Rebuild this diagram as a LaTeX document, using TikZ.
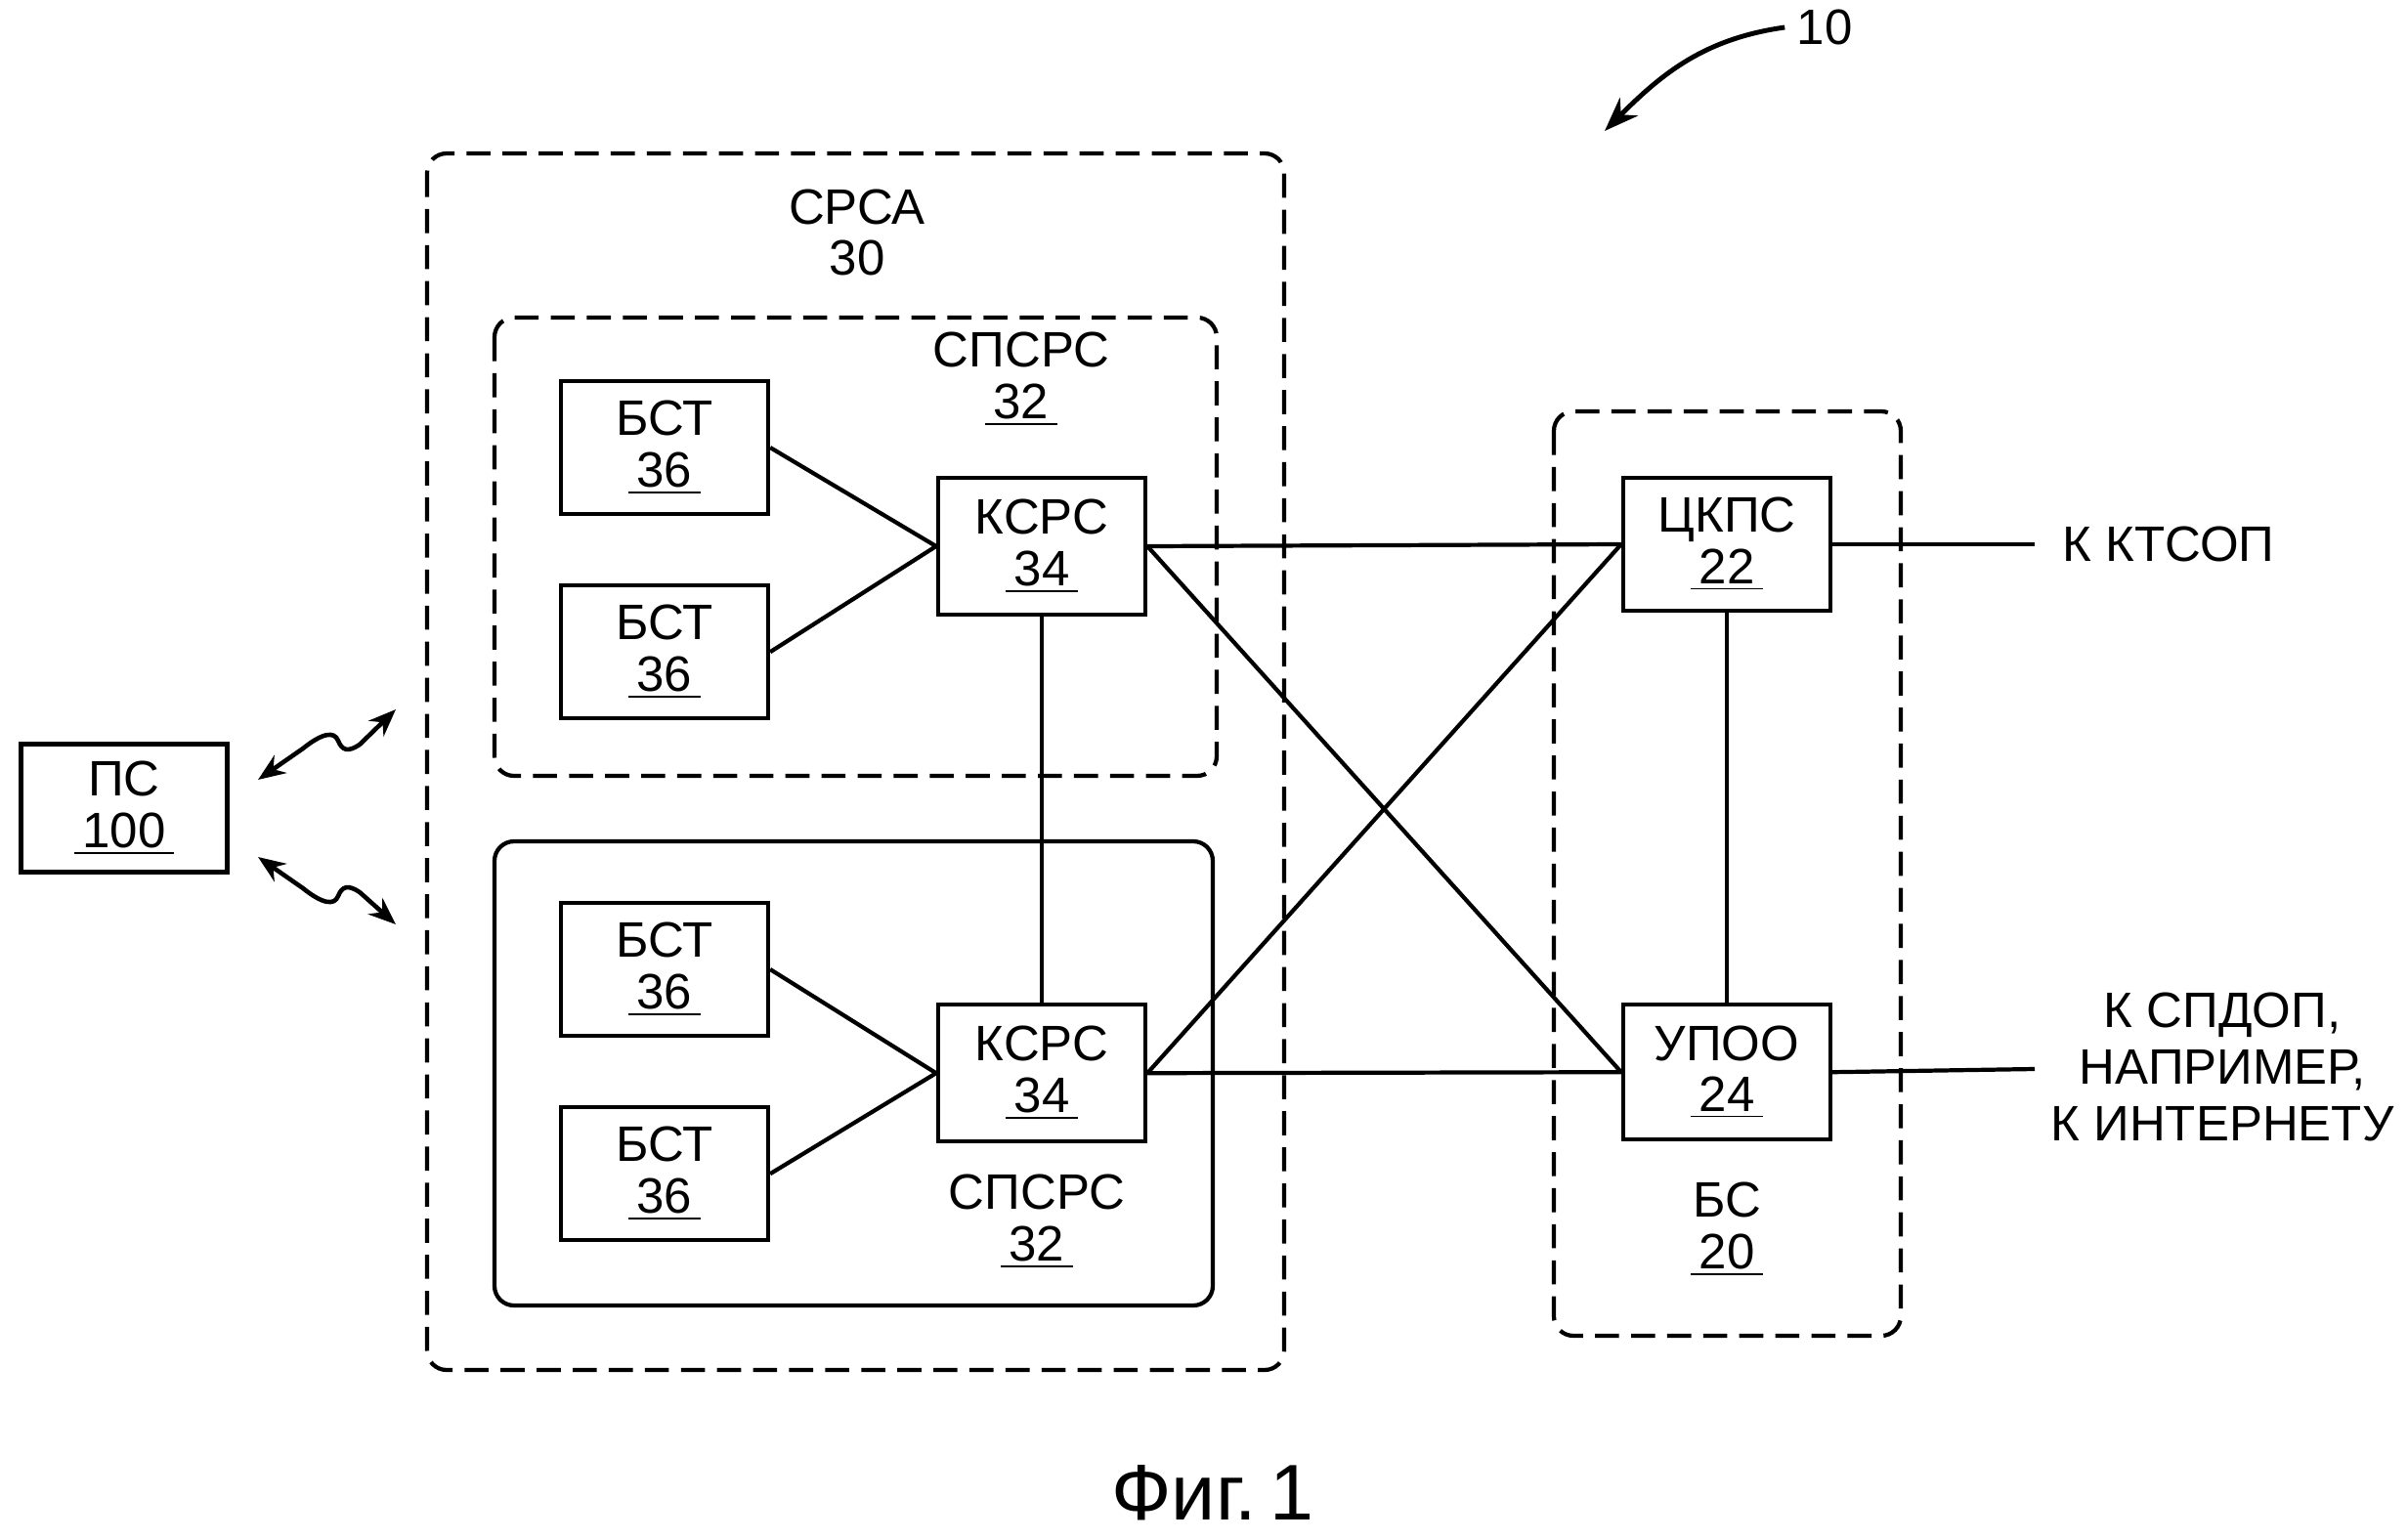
\documentclass[tikz,border=0pt]{standalone}
\usepackage{fontspec}
\setmainfont{Liberation Sans}
\usetikzlibrary{arrows.meta, positioning}

\newcommand{\refnum}[1]{\underline{\,#1\,}}

\begin{document}
\begin{tikzpicture}[
    font=\fontsize{14.5}{15}\selectfont,
    block/.style={draw, line width=1.2pt, minimum width=2.12cm, minimum height=1.36cm, inner sep=0pt, align=center},
    group/.style={draw, line width=1.2pt, dash pattern=on 7pt off 3.5pt, rounded corners=0.2cm},
    link/.style={line width=1.2pt},
    radio/.style={line width=1.3pt, arrows={Stealth[length=0.28cm, width=0.22cm]-Stealth[length=0.28cm, width=0.22cm]}}
]
    \useasboundingbox (0,0) rectangle (24.64,-15.76);

    %% radio access network
    % Frames
    \draw[group] (4.37,-1.57) rectangle (13.14,-14.02);
    \draw[group] (5.06,-3.25) rectangle (12.45,-7.94);
    \draw[link, rounded corners=0.2cm] (5.06,-8.61) rectangle (12.41,-13.36);

    % Nodes
    \node[align=center] (srsa) at (8.77,-2.38) {СРСА\\30};
    \node[align=center] (spsrs1) at (10.45,-3.88) {СПСРС\\\refnum{32}};
    \node[align=center] (spsrs2) at (10.61,-12.50) {СПСРС\\\refnum{32}};

    \node[block] (bst1) at (6.80,-4.58) {БСТ\\\refnum{36}};
    \node[block, below=0.69cm of bst1] (bst2) {БСТ\\\refnum{36}};
    \node[block, minimum height=1.40cm] (ksrs1) at (10.66,-5.59) {КСРС\\\refnum{34}};
    \node[block, minimum height=1.40cm, below=3.95cm of ksrs1] (ksrs2) {КСРС\\\refnum{34}};
    \node[block] (bst3) at (6.80,-9.92) {БСТ\\\refnum{36}};
    \node[block, below=0.69cm of bst3] (bst4) {БСТ\\\refnum{36}};

    %% base station
    \draw[group] (15.90,-4.21) rectangle (19.45,-13.67);
    \node[block] (ckps) at (17.67,-5.57) {ЦКПС\\\refnum{22}};
    \node[block, minimum height=1.38cm, below=3.99cm of ckps] (upoo) {УПОО\\\refnum{24}};
    \node[align=center] (bs) at (17.67,-12.58) {БС\\\refnum{20}};

    %% mobile station
    \node[block, minimum width=2.11cm, minimum height=1.31cm] (ms) at (1.27,-8.27) {ПС\\\refnum{100}};

    % Outside links
    \coordinate (pstn) at (20.82,-5.57);
    \coordinate (pdsn) at (20.82,-10.94);
    \node[anchor=west, inner sep=0pt] (ktsop) at (21.10,-5.57) {К КТСОП};
    \node[anchor=west, inner sep=0pt, align=center, font=\fontsize{14.5}{16.5}\selectfont] (inet) at (20.98,-10.92) {К СПДОП,\\НАПРИМЕР,\\К ИНТЕРНЕТУ};

    % Connections
    \draw[link] (bst1.east) -- (ksrs1.west);
    \draw[link] (bst2.east) -- (ksrs1.west);
    \draw[link] (bst3.east) -- (ksrs2.west);
    \draw[link] (bst4.east) -- (ksrs2.west);
    \draw[link] (ksrs1.south) -- (ksrs2.north);
    \draw[link] (ksrs1.east) -- (ckps.west);
    \draw[link] (ksrs1.east) -- (upoo.west);
    \draw[link] (ksrs2.east) -- (ckps.west);
    \draw[link] (ksrs2.east) -- (upoo.west);
    \draw[link] (ckps.south) -- (upoo.north);
    \draw[link] (ckps.east) -- (pstn);
    \draw[link] (upoo.east) -- (pdsn);

    % Air links
    \coordinate (air1a) at (2.64,-7.98);
    \coordinate (air1b) at (4.05,-7.26);
    \coordinate (air2a) at (2.64,-8.77);
    \coordinate (air2b) at (4.05,-9.46);
    \draw[radio] (air1a) -- (3.10,-7.66) .. controls (3.30,-7.50) and (3.42,-7.48) .. (3.46,-7.58)
        .. controls (3.50,-7.68) and (3.56,-7.70) .. (3.68,-7.62) -- (air1b);
    \draw[radio] (air2a) -- (3.10,-9.09) .. controls (3.30,-9.25) and (3.42,-9.27) .. (3.46,-9.17)
        .. controls (3.50,-9.07) and (3.56,-9.05) .. (3.68,-9.13) -- (air2b);

    %% reference and caption
    \node (ten) at (18.67,-0.28) {10};
    \coordinate (tentip) at (16.42,-1.34);
    \draw[line width=1.4pt, arrows={-Stealth[length=0.35cm, width=0.26cm]}] (ten.west) to[out=188, in=45] (tentip);
    \node[font=\fontsize{23}{25}\selectfont] (fig) at (12.41,-15.28) {Фиг.\thinspace 1};
\end{tikzpicture}
\end{document}
